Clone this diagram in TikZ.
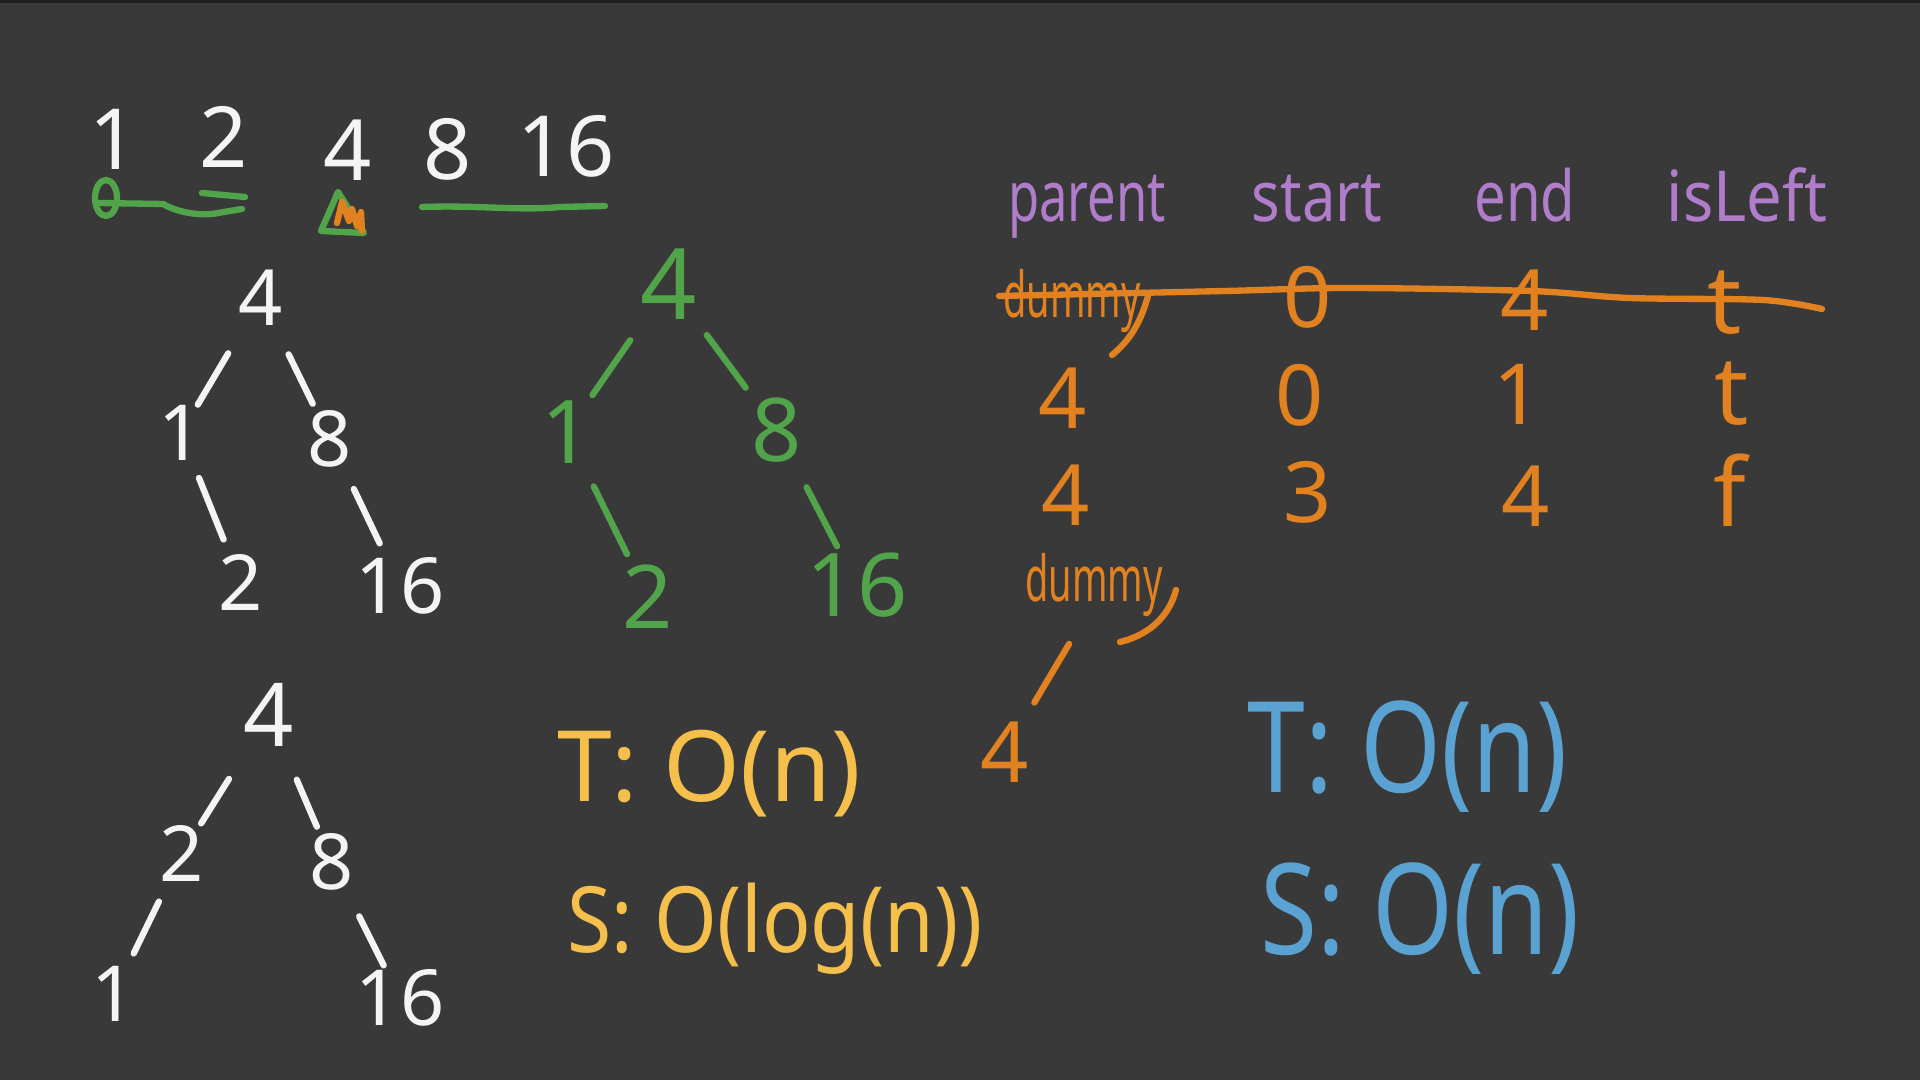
\documentclass[tikz,border=0pt]{standalone}
\usepackage{fontspec}
\setmainfont{Noto Sans}
\usepackage{graphicx}
\usetikzlibrary{calc}
\definecolor{bg}{HTML}{393939}
\definecolor{topbar}{HTML}{1E1E1E}
\definecolor{chalk}{HTML}{F4F4F4}
\definecolor{pgreen}{HTML}{52A44B}
\definecolor{porange}{HTML}{E2811F}
\definecolor{ppurple}{HTML}{B07DCB}
\definecolor{pyellow}{HTML}{F5BF4C}
\definecolor{pblue}{HTML}{5AA2D2}
\newcommand\tedge[4]{\draw[stroke] ($(#1)!#3!(#2)$) -- ($(#1)!#4!(#2)$);}
\tikzset{
  stroke/.style={line width=1.8pt, line cap=round, line join=round},
  fs/.style={inner sep=0pt, font=\fontsize{#1}{#1}\selectfont},
  hdr/.style={fs=20, text=ppurple, anchor=base},
}
\begin{document}
\begin{tikzpicture}[x=0.01cm, y=-0.01cm]
\useasboundingbox (0,0) rectangle (1920,1080);
\fill[bg] (0,0) rectangle (1920,1080);
\fill[topbar] (0,0) rectangle (1920,3);

% ---------- top row ----------
\begin{scope}[every node/.style={fs=24, text=chalk}]
\node (r1) at (114,139) {1};
\node (r2) at (224,137) {2};
\node (r4) at (348,150) {4};
\node (r8) at (448,149) {8};
\node (r16) at (566,146) {16};
\end{scope}
\begin{scope}[stroke, draw=pgreen]
\draw (106,198) ellipse [x radius=11, y radius=18];
\draw (98,203) -- (163,204) .. controls (180,214) and (205,216) .. (218,213) -- (242,209);
\draw (202,193) -- (245,197);
\draw (338,192) -- (321,231) -- (364,233) -- cycle;
\draw (422,207) .. controls (480,205) and (520,211) .. (560,207) -- (605,206);
\end{scope}
\draw[stroke, porange] (337,223) -- (342,202) -- (349,221) -- (352,209) -- (357,226) -- (361,212) -- (362,231);

% ---------- tree 1 (white) ----------
\begin{scope}[every node/.style={fs=22, text=chalk}, draw=chalk]
\node (a4) at (261,298) {4};
\node (a1) at (181,433) {1};
\node (a8) at (330,439) {8};
\node (a2) at (241,583) {2};
\node (a16) at (400,586) {16};
\tedge{a4}{a1}{0.41}{0.79}
\tedge{a4}{a8}{0.40}{0.75}
\tedge{a1}{a2}{0.30}{0.71}
\tedge{a8}{a16}{0.34}{0.71}
\end{scope}

% ---------- tree 2 (green) ----------
\begin{scope}[every node/.style={fs=25, text=pgreen}, draw=pgreen]
\node[fs=28] (b4) at (669,284) {4};
\node (b1) at (567,432) {1};
\node (b8) at (777,430) {8};
\node (b2) at (648,597) {2};
\node (b16) at (857,585) {16};
\tedge{b4}{b1}{0.38}{0.75}
\tedge{b4}{b8}{0.35}{0.71}
\tedge{b1}{b2}{0.33}{0.74}
\tedge{b8}{b16}{0.37}{0.75}
\end{scope}

% ---------- tree 3 (white) ----------
\begin{scope}[every node/.style={fs=22, text=chalk}, draw=chalk]
\node[fs=25] (c4) at (269,715) {4};
\node (c2) at (182,854) {2};
\node (c8) at (332,862) {8};
\node (c1) at (114,994) {1};
\node (c16) at (400,998) {16};
\tedge{c4}{c2}{0.46}{0.78}
\tedge{c4}{c8}{0.44}{0.76}
\tedge{c2}{c1}{0.34}{0.71}
\tedge{c8}{c16}{0.40}{0.76}
\end{scope}

% ---------- table ----------
\node[hdr] (hparent) at (1087,222) {\scalebox{0.72}[1]{parent}};
\node[hdr] (hstart) at (1317,222) {\scalebox{0.85}[1]{start}};
\node[hdr] (hend) at (1525,222) {\scalebox{0.8}[1]{end}};
\node[hdr] (hleft) at (1747,222) {\scalebox{0.9}[1]{isLeft}};

\begin{scope}[every node/.style={fs=24, text=porange}]
\node[fs=18, anchor=base] (d1) at (1072,318) {\scalebox{0.6}[1]{dummy}};
\node (s1) at (1308,297) {0};
\node (e1) at (1525,300) {4};
\node[fs=27] (l1) at (1725,303) {t};
\node (p2) at (1063,398) {4};
\node (s2) at (1300,395) {0};
\node (e2) at (1518,394) {1};
\node[fs=27] (l2) at (1732,394) {t};
\node (p3) at (1066,495) {4};
\node (s3) at (1308,492) {3};
\node (e3) at (1526,496) {4};
\node[fs=27] (l3) at (1730,490) {f};
\node[fs=18, anchor=base] (d2) at (1094,602) {\scalebox{0.6}[1]{dummy}};
\node (o4) at (1005,752) {4};
\end{scope}
\begin{scope}[stroke, draw=porange]
\draw plot[smooth] coordinates {(999,296) (1225,291) (1347,288) (1531,291) (1629,298) (1763,300) (1822,309)};
\draw (1148,296) .. controls (1140,325) and (1128,342) .. (1112,355);
\draw (1176,590) .. controls (1168,620) and (1145,636) .. (1120,642);
\draw ($(d2.base)!0.28!(o4)$) -- ($(d2.base)!0.67!(o4)$);
\end{scope}

% ---------- complexities ----------
\node[fs=28, text=pyellow, anchor=base] (yt) at (709,802) {T: O(n)};
\node[fs=26, text=pyellow, anchor=base] (ys) at (775,953) {\scalebox{0.88}[1]{S: O(log(n))}};
\node[fs=36, text=pblue, anchor=base] (bt) at (1408,793) {\scalebox{0.82}[1]{T: O(n)}};
\node[fs=36, text=pblue, anchor=base] (bs) at (1420,955) {\scalebox{0.82}[1]{S: O(n)}};
\end{tikzpicture}
\end{document}
